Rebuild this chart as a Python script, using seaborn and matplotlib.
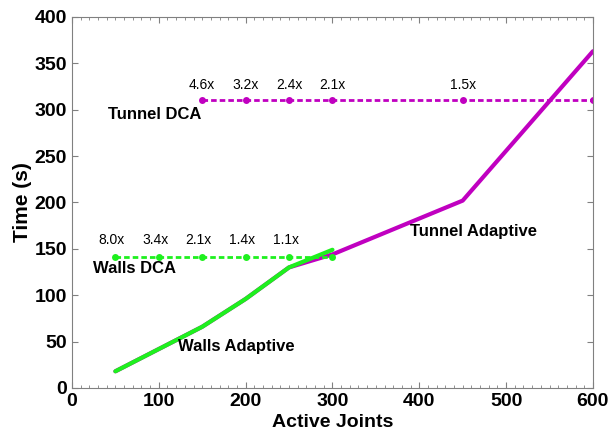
import matplotlib
matplotlib.use('Agg')
from matplotlib.ticker import MultipleLocator
import matplotlib.pyplot as plt
import numpy as np
import pandas as pd
import seaborn as sns

sns.set_style("ticks")
plt.rcParams['font.family'] = ['Liberation Sans', 'DejaVu Sans']
plt.rcParams['text.color'] = 'black'
plt.rcParams['axes.labelcolor'] = 'black'

# data
walls_adapt_x = [50, 100, 150, 200, 250, 300]
walls_adapt_t = [18, 42, 66, 96, 130, 149]
tunnel_adapt_x = [50, 100, 150, 200, 250, 300, 450, 600]
tunnel_adapt_t = [18, 42, 66, 96, 130, 144, 202, 363]
walls_dca_x = [50, 100, 150, 200, 250, 300]
walls_dca_t = [141, 141, 141, 141, 141, 141]
tunnel_dca_x = [150, 200, 250, 300, 450, 600]
tunnel_dca_t = [310, 310, 310, 310, 310, 310]
walls_speedup = ['8.0x', '3.4x', '2.1x', '1.4x', '1.1x']
tunnel_speedup = ['4.6x', '3.2x', '2.4x', '2.1x', '1.5x']

green = '#1ef01e'
magenta = '#c000c0'

fig = plt.figure(figsize=(6.1, 4.34), dpi=100)
ax = fig.add_axes([0.118, 0.106, 0.854, 0.855])

sns.lineplot(x='x', y='t', data=pd.DataFrame({'x': tunnel_adapt_x, 't': tunnel_adapt_t}),
             ax=ax, color=magenta, lw=3, sort=False)
sns.lineplot(x='x', y='t', data=pd.DataFrame({'x': tunnel_dca_x, 't': tunnel_dca_t}),
             ax=ax, color=magenta, lw=2, marker='o', markersize=5,
             markeredgewidth=0, sort=False)
sns.lineplot(x='x', y='t', data=pd.DataFrame({'x': walls_adapt_x, 't': walls_adapt_t}),
             ax=ax, color=green, lw=3, sort=False)
sns.lineplot(x='x', y='t', data=pd.DataFrame({'x': walls_dca_x, 't': walls_dca_t}),
             ax=ax, color=green, lw=2, marker='o', markersize=5,
             markeredgewidth=0, sort=False)
# dashed DCA lines
ax.lines[1].set_dashes((2, 1.1))
ax.lines[3].set_dashes((2, 1.1))

# speed-up labels
for x, t, s in zip(walls_dca_x, walls_dca_t, walls_speedup):
    ax.text(x - 4, t + 19, s, ha='center', va='center', fontsize=10)
for x, t, s in zip(tunnel_dca_x, tunnel_dca_t, tunnel_speedup):
    ax.text(x, t + 17, s, ha='center', va='center', fontsize=10)

# series labels
ax.text(41, 295, 'Tunnel DCA', fontsize=12, fontweight='bold', va='center')
ax.text(24, 129, 'Walls DCA', fontsize=12, fontweight='bold', va='center')
ax.text(122, 45, 'Walls Adaptive', fontsize=12, fontweight='bold', va='center')
ax.text(389, 169, 'Tunnel Adaptive', fontsize=12, fontweight='bold', va='center')

ax.set_xlim(0, 600)
ax.set_ylim(0, 400)
ax.xaxis.set_major_locator(MultipleLocator(100))
ax.xaxis.set_minor_locator(MultipleLocator(10))
ax.yaxis.set_major_locator(MultipleLocator(50))
ax.tick_params(which='both', direction='in', top=True, right=True, colors='#808080',
               labelcolor='black', labelsize=14)
ax.tick_params(which='major', length=4)
ax.tick_params(which='minor', length=2)
for lbl in ax.get_xticklabels() + ax.get_yticklabels():
    lbl.set_fontweight('bold')
for sp in ax.spines.values():
    sp.set_color('#808080')
    sp.set_linewidth(0.8)

ax.set_xlabel('Active Joints', fontsize=14, fontweight='bold', labelpad=3)
ax.set_ylabel('Time (s)', fontsize=15, fontweight='bold', labelpad=2)

fig.savefig('out.png', dpi=100)
plt.close()
